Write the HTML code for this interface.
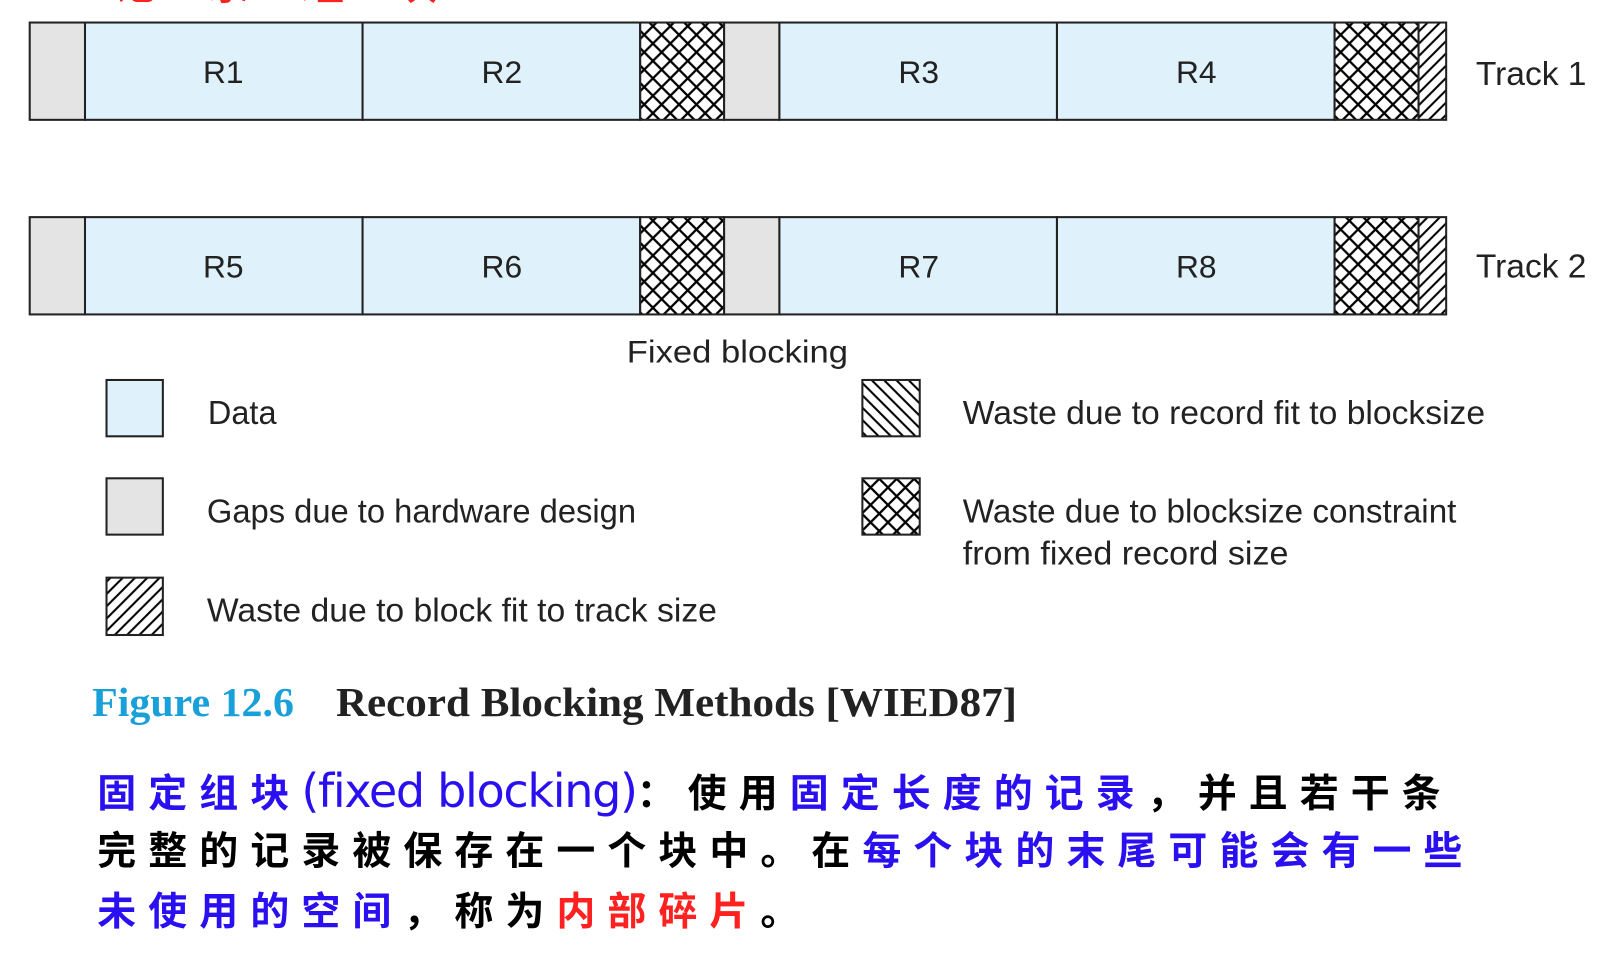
<!DOCTYPE html>
<html><head><meta charset="utf-8"><style>
body{margin:0;width:1606px;height:954px;background:#fff;overflow:hidden;position:relative;font-family:"Liberation Sans",sans-serif}
#w{position:absolute;left:0;top:0;width:1568px;height:932px;transform:scale(1.0242);transform-origin:0 0}
.cn{position:absolute;font-family:"Liberation Sans","Noto Sans CJK SC",sans-serif;font-weight:bold;font-size:38px;letter-spacing:11.8px;white-space:nowrap;line-height:1}
.b{color:#2a10f0}.r{color:#ff2020}.k{color:#000}
.lat{font-family:"DejaVu Sans","Liberation Sans",sans-serif;font-weight:normal;font-size:45px;letter-spacing:-1.3px}
</style></head><body><div id="w">
<svg width="1568" height="932" style="position:absolute;left:0;top:0">
<defs>
<pattern id="x" width="17" height="17" patternUnits="userSpaceOnUse"><path d="M0 0L17 17M17 0L0 17M-2 2L2 -2M15 19L19 15M-2 15L2 19M15 -2L19 2" stroke="#000" stroke-width="2.2"/></pattern>
<pattern id="d" width="12" height="12" patternUnits="userSpaceOnUse"><path d="M0 12L12 0M-2 2L2 -2M10 14L14 10" stroke="#000" stroke-width="2"/></pattern>
<pattern id="bs" width="12" height="12" patternUnits="userSpaceOnUse"><path d="M0 0L12 12M-2 10L2 14M10 -2L14 2" stroke="#000" stroke-width="2"/></pattern>
</defs>
<g stroke="#222" stroke-width="2">
<g id="t1">
<rect x="29" y="22" width="54" height="95" fill="#e4e4e4"/>
<rect x="83" y="22" width="271" height="95" fill="#dff1fb"/>
<rect x="354" y="22" width="271" height="95" fill="#dff1fb"/>
<rect x="625" y="22" width="82" height="95" fill="url(#x)"/>
<rect x="707" y="22" width="54" height="95" fill="#e4e4e4"/>
<rect x="761" y="22" width="271" height="95" fill="#dff1fb"/>
<rect x="1032" y="22" width="271" height="95" fill="#dff1fb"/>
<rect x="1303" y="22" width="82" height="95" fill="url(#x)"/>
<rect x="1385" y="22" width="27" height="95" fill="url(#d)"/>
</g>
<use href="#t1" y="190"/>
<rect x="104" y="371" width="55" height="55" fill="#dff1fb"/>
<rect x="104" y="467" width="55" height="55" fill="#e4e4e4"/>
<rect x="104" y="564" width="55" height="56" fill="url(#d)"/>
<rect x="842" y="371" width="56" height="55" fill="url(#bs)"/>
<rect x="842" y="467" width="56" height="55" fill="url(#x)"/>
</g>
<g font-family="Liberation Sans" font-size="31" fill="#222" text-anchor="middle">
<text x="218" y="81">R1</text><text x="490" y="81">R2</text><text x="897" y="81">R3</text><text x="1168" y="81">R4</text>
<text x="218" y="271">R5</text><text x="490" y="271">R6</text><text x="897" y="271">R7</text><text x="1168" y="271">R8</text>
</g>
<g font-family="Liberation Sans" font-size="33" fill="#222">
<text x="1441" y="83" textLength="108" lengthAdjust="spacingAndGlyphs">Track 1</text>
<text x="1441" y="271" textLength="108" lengthAdjust="spacingAndGlyphs">Track 2</text>
<text x="612" y="354" font-size="31" textLength="216" lengthAdjust="spacingAndGlyphs">Fixed blocking</text>
<text x="203" y="414" textLength="67" lengthAdjust="spacingAndGlyphs">Data</text>
<text x="202" y="510" textLength="419" lengthAdjust="spacingAndGlyphs">Gaps due to hardware design</text>
<text x="202" y="607" textLength="498" lengthAdjust="spacingAndGlyphs">Waste due to block fit to track size</text>
<text x="940" y="414" textLength="510" lengthAdjust="spacingAndGlyphs">Waste due to record fit to blocksize</text>
<text x="940" y="510" textLength="482" lengthAdjust="spacingAndGlyphs">Waste due to blocksize constraint</text>
<text x="940" y="551" textLength="318" lengthAdjust="spacingAndGlyphs">from fixed record size</text>
</g>
<text x="90" y="699" font-family="Liberation Serif" font-size="40" font-weight="bold" fill="#1aa0d8" textLength="197" lengthAdjust="spacingAndGlyphs">Figure 12.6</text>
<text x="328" y="699" font-family="Liberation Serif" font-size="40" font-weight="bold" fill="#222" textLength="665" lengthAdjust="spacingAndGlyphs">Record Blocking Methods [WIED87]</text>
</svg>
<div class="cn r" style="left:110px;top:-36px;font-size:42px;letter-spacing:50px">记录组块</div>
<div class="cn" style="left:95px;top:750px"><span class="b">固定组块</span><span class="b lat">(fixed blocking)</span><span class="k">：使用</span><span class="b">固定长度的记录</span><span class="k">，并且若干条</span></div>
<div class="cn" style="left:95px;top:813px"><span class="k">完整的记录被保存在一个块中。在</span><span class="b">每个块的末尾可能会有一些</span></div>
<div class="cn" style="left:95px;top:872px"><span class="b">未使用的空间</span><span class="k">，称为</span><span class="r">内部碎片</span><span class="k">。</span></div>
</div></body></html>
